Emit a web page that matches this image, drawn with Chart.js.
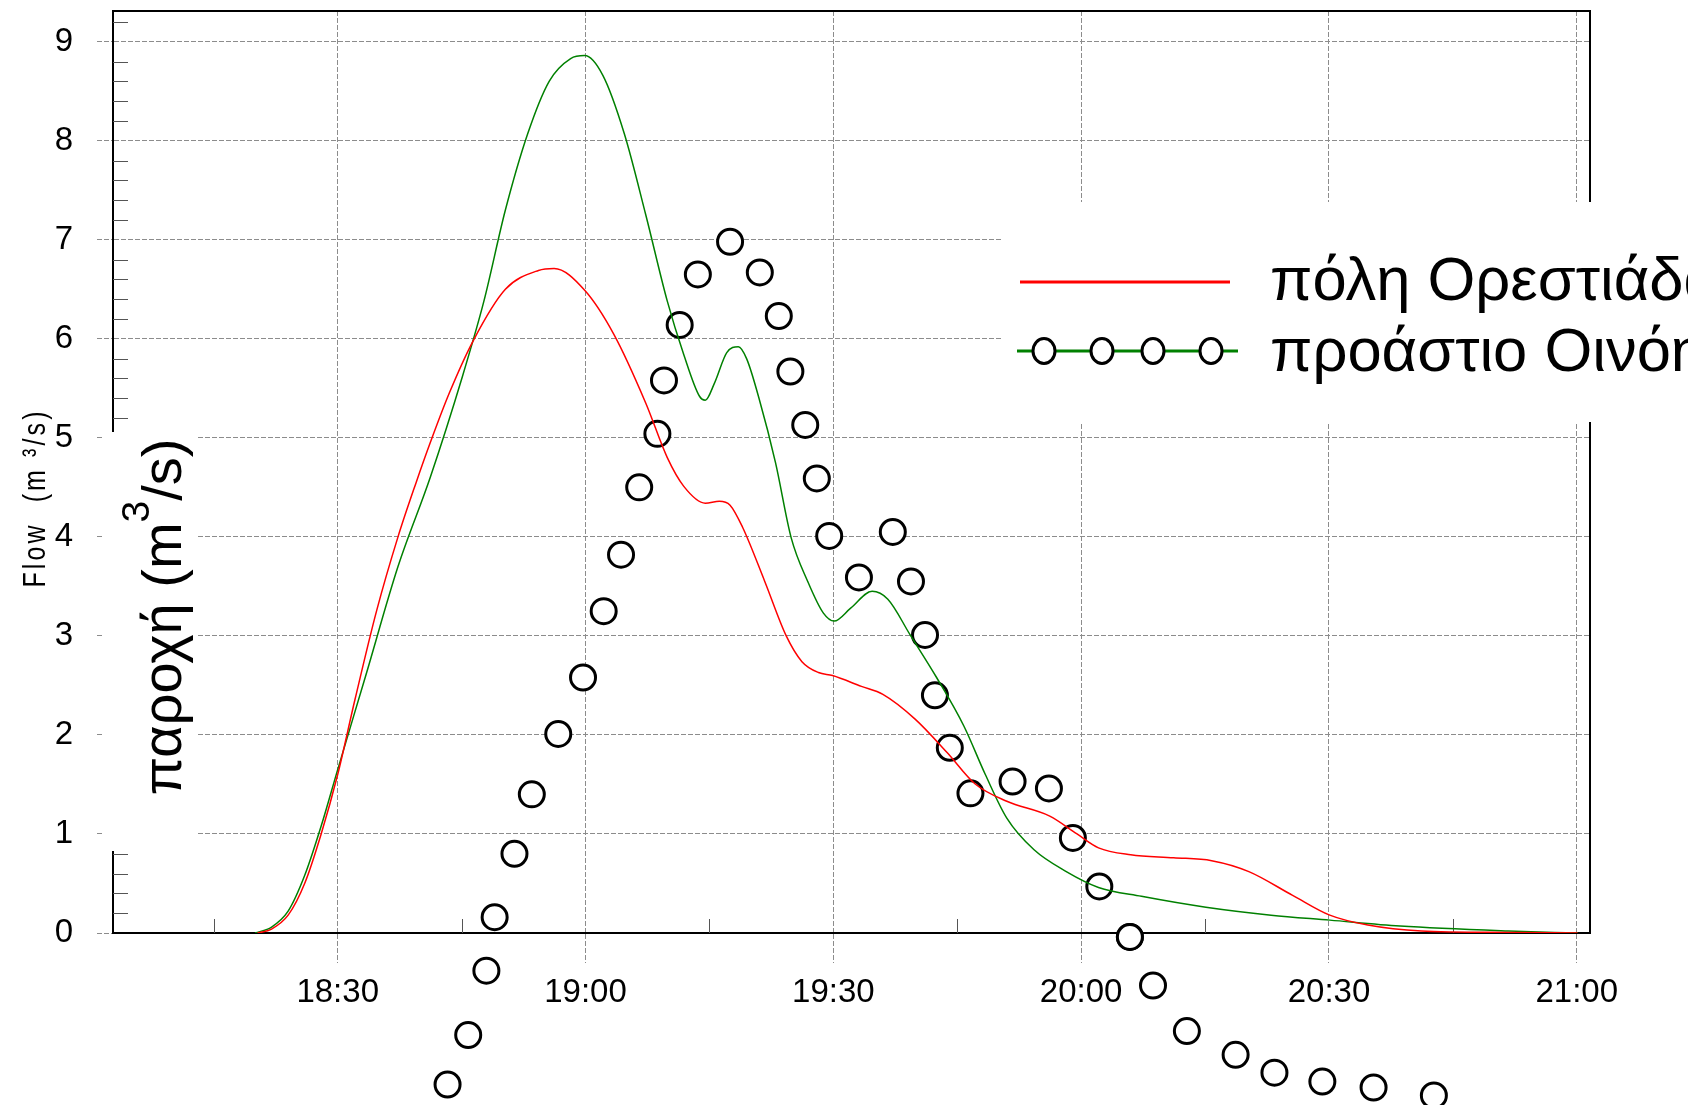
<!DOCTYPE html>
<html>
<head>
<meta charset="utf-8">
<script src="https://cdn.jsdelivr.net/npm/chart.js@4.4.0/dist/chart.umd.min.js"></script>
<style>
  html, body { margin: 0; padding: 0; background: #fff; }
  #wrap { width: 1688px; height: 1105px; position: relative; }
</style>
</head>
<body>
<div id="wrap"><canvas id="flowChart"></canvas></div>
<script>
// time in minutes after 18:00, flow in m3/s
const redTimes = [20.3, 22, 24, 26, 28, 30, 32.1, 34.7, 37.3, 39.5, 41.2, 43.5, 46.4, 50.3, 54.3, 56.2, 59.9, 63.4, 67.3, 69.9, 71.9, 74.5, 76.2, 77.5, 79.0, 81.7, 84.3, 86.2, 88.2, 89.9, 93.4, 96.0, 99.9, 103.8, 107.1, 111.0, 116.2, 119.5, 122.1, 126.0, 131.2, 135.8, 140.3, 145.6, 150.1, 154.7, 161.2, 171.7, 180.1];
const redFlow  = [0, 0.04, 0.18, 0.5, 1.0, 1.6, 2.36, 3.25, 4.0, 4.55, 4.95, 5.45, 5.98, 6.5, 6.69, 6.71, 6.49, 6.05, 5.35, 4.8, 4.51, 4.34, 4.36, 4.32, 4.1, 3.55, 3.0, 2.74, 2.63, 2.6, 2.49, 2.41, 2.16, 1.82, 1.51, 1.33, 1.18, 1.0, 0.86, 0.79, 0.76, 0.73, 0.62, 0.38, 0.18, 0.08, 0.02, 0.005, 0];

const greenTimes = [20.0, 22, 24, 26, 28, 30, 33.4, 37.3, 41.2, 45.1, 47.7, 50.3, 53.0, 55.6, 58.2, 59.9, 62.1, 64.7, 67.3, 69.9, 71.9, 73.8, 74.5, 75.6, 77.1, 78.5, 79.5, 81.0, 83.0, 84.9, 86.9, 88.8, 90.1, 92.1, 94.7, 96.6, 99.3, 102.5, 105.8, 108.4, 111.0, 114.3, 118.2, 122.1, 127.3, 135.1, 143.0, 150.1, 158.6, 171.7, 180.1];
const greenFlow  = [0, 0.06, 0.22, 0.58, 1.08, 1.65, 2.6, 3.7, 4.6, 5.62, 6.38, 7.3, 8.07, 8.6, 8.83, 8.86, 8.66, 8.07, 7.25, 6.38, 5.84, 5.42, 5.38, 5.55, 5.86, 5.92, 5.8, 5.4, 4.75, 3.99, 3.55, 3.23, 3.15, 3.28, 3.45, 3.37, 3.01, 2.58, 2.09, 1.6, 1.16, 0.84, 0.62, 0.46, 0.37, 0.26, 0.18, 0.13, 0.07, 0.02, 0];

// the circle markers sit offset from the green line in the picture
const circleTimes = [43.3, 45.8, 48.0, 49.0, 51.4, 53.5, 56.7, 59.7, 62.2, 64.3, 66.5, 68.7, 69.5, 71.4, 73.6, 77.5, 81.1, 83.4, 84.8, 86.6, 88.0, 89.5, 93.1, 97.2, 99.4, 101.1, 102.3, 104.1, 106.6, 111.7, 116.1, 119.0, 122.2, 125.9, 128.7, 132.8, 138.7, 143.4, 149.2, 155.4, 162.7];
const circleFlow  = [-1.53, -1.03, -0.38, 0.16, 0.80, 1.40, 2.01, 2.58, 3.25, 3.82, 4.50, 5.04, 5.58, 6.14, 6.65, 6.98, 6.67, 6.23, 5.67, 5.13, 4.59, 4.01, 3.59, 4.05, 3.55, 3.01, 2.40, 1.87, 1.41, 1.53, 1.46, 0.96, 0.47, -0.04, -0.53, -0.99, -1.23, -1.41, -1.50, -1.56, -1.64];

const timeTicks  = [30, 60, 90, 120, 150, 180];
const timeLabels = ['18:30', '19:00', '19:30', '20:00', '20:30', '21:00'];
const flowTicks  = [0, 1, 2, 3, 4, 5, 6, 7, 8, 9];
const seriesNames = ['πόλη Ορεστιάδας', 'προάστιο Οινόης'];

const toPts = (ts, vs) => ts.map((t, i) => ({ x: t, y: vs[i] }));
const sans = "'Liberation Sans', Arial, sans-serif";

const decor = {
  id: 'decor',
  beforeDatasetsDraw(chart) {
    const { ctx, chartArea: a, scales: { x, y } } = chart;
    ctx.save();
    ctx.strokeStyle = '#000';
    ctx.lineWidth = 2;
    ctx.beginPath();
    ctx.moveTo(a.left, a.top); ctx.lineTo(a.right, a.top); ctx.lineTo(a.right, a.bottom);
    ctx.stroke();
    // minor ticks
    ctx.lineWidth = 1;
    ctx.strokeStyle = '#555';
    ctx.beginPath();
    for (let v = 0.2; v < y.max; v += 0.2) {
      if (Math.abs(v - Math.round(v)) < 0.01) continue;
      const py = Math.round(y.getPixelForValue(v)) + 0.5;
      ctx.moveTo(a.left, py); ctx.lineTo(a.left + 15, py);
    }
    for (let t = 15; t < x.max; t += 30) {
      const px = Math.round(x.getPixelForValue(t)) + 0.5;
      ctx.moveTo(px, a.bottom); ctx.lineTo(px, a.bottom - 14);
    }
    ctx.stroke();
    // white panels behind the big axis title and the legend
    ctx.fillStyle = '#fff';
    ctx.fillRect(104, 432, 93, 419);
    ctx.fillRect(1001, 202, 700, 220);
    ctx.restore();
  },
  afterDatasetsDraw(chart) {
    // markers that fall outside the plot area are still drawn
    const a = chart.chartArea;
    const wide = { left: -1e4, top: -1e4, right: 1e4, bottom: 1e4 };
    chart.getDatasetMeta(2).data.forEach(pt => {
      if (pt.x < a.left || pt.x > a.right || pt.y < a.top || pt.y > a.bottom) pt.draw(chart.ctx, wide);
    });
  },
  afterDraw(chart) {
    const { ctx } = chart;
    const ds = chart.data.datasets;
    ctx.save();
    ctx.fillStyle = '#000';
    ctx.textBaseline = 'alphabetic';

    // old small axis title
    ctx.save();
    ctx.translate(45, 498);
    ctx.rotate(-Math.PI / 2);
    ctx.scale(0.78, 1);
    ctx.font = '32px ' + sans;
    ctx.letterSpacing = '4px';
    ctx.textAlign = 'center';
    ctx.fillText('Flow  (m ³/s)', 0, 0);
    ctx.restore();

    // big axis title with superscript
    ctx.save();
    ctx.translate(181, 617);
    ctx.rotate(-Math.PI / 2);
    const big = '56px ' + sans, sup = '39px ' + sans;
    ctx.font = big;
    const p1 = 'παροχή (m', p3 = '/s)';
    const w1 = ctx.measureText(p1).width, w3 = ctx.measureText(p3).width;
    ctx.font = sup;
    const w2 = ctx.measureText('3').width;
    let sx = -(w1 + w2 + w3) / 2;
    ctx.font = big; ctx.fillText(p1, sx, 0); sx += w1;
    ctx.font = sup; ctx.fillText('3', sx, -32); sx += w2;
    ctx.font = big; ctx.fillText(p3, sx, 0);
    ctx.restore();

    // legend
    ctx.lineWidth = 3;
    ctx.strokeStyle = ds[0].borderColor;
    ctx.beginPath(); ctx.moveTo(1020, 282); ctx.lineTo(1230, 282); ctx.stroke();
    ctx.strokeStyle = ds[1].borderColor;
    ctx.beginPath(); ctx.moveTo(1017, 351); ctx.lineTo(1238, 351); ctx.stroke();
    ctx.strokeStyle = '#000';
    ctx.fillStyle = '#fff';
    [1044, 1102, 1153, 1211].forEach(cx => {
      ctx.beginPath(); ctx.ellipse(cx, 351, 11, 12.5, 0, 0, Math.PI * 2); ctx.fill(); ctx.stroke();
    });
    ctx.fillStyle = '#000';
    ctx.font = '61.5px ' + sans;
    ctx.textAlign = 'left';
    ctx.fillText(ds[0].label, 1270, 300);
    ctx.fillText(ds[1].label, 1270, 371);
    ctx.restore();
  }
};

new Chart(document.getElementById('flowChart'), {
  type: 'line',
  data: {
    datasets: [
      { label: seriesNames[0], data: toPts(redTimes, redFlow), borderColor: '#ff0000', borderWidth: 1.5,
        pointRadius: 0, cubicInterpolationMode: 'monotone' },
      { label: seriesNames[1], data: toPts(greenTimes, greenFlow), borderColor: '#008000', borderWidth: 1.5,
        pointRadius: 0, cubicInterpolationMode: 'monotone' },
      { label: seriesNames[1], data: toPts(circleTimes, circleFlow), showLine: false, clip: false,
        pointRadius: 12.5, pointBorderWidth: 3, pointBorderColor: '#000', pointBackgroundColor: '#fff' }
    ]
  },
  options: {
    responsive: true,
    maintainAspectRatio: false,
    animation: false,
    layout: { autoPadding: false, padding: { top: 11, right: 98, left: 0, bottom: 0 } },
    plugins: { legend: { display: false }, tooltip: { enabled: false } },
    scales: {
      x: {
        type: 'linear', min: 2.8, max: 181.6,
        afterBuildTicks: s => { s.ticks = timeTicks.map(v => ({ value: v })); },
        afterFit: s => { s.height = 172; s.paddingLeft = 0; s.paddingRight = 0; },
        ticks: {
          callback: v => timeLabels[timeTicks.indexOf(v)],
          font: { family: sans, size: 33 }, color: '#000', padding: 10,
          maxRotation: 0, autoSkip: false
        },
        grid: { color: '#8c8c8c', lineWidth: 1, tickLength: 30, tickBorderDash: [5, 2] },
        border: { color: '#000', width: 2, dash: [5, 2] }
      },
      y: {
        min: 0, max: 9.31,
        afterBuildTicks: s => { s.ticks = flowTicks.map(v => ({ value: v })); },
        afterFit: s => { s.width = 113; s.paddingTop = 0; s.paddingBottom = 0; },
        ticks: { font: { family: sans, size: 33 }, color: '#000', padding: 24 },
        grid: { color: '#8c8c8c', lineWidth: 1, tickLength: 16, tickBorderDash: [5, 2] },
        border: { color: '#000', width: 2, dash: [5, 2] }
      }
    }
  },
  plugins: [decor]
});
</script>
</body>
</html>
